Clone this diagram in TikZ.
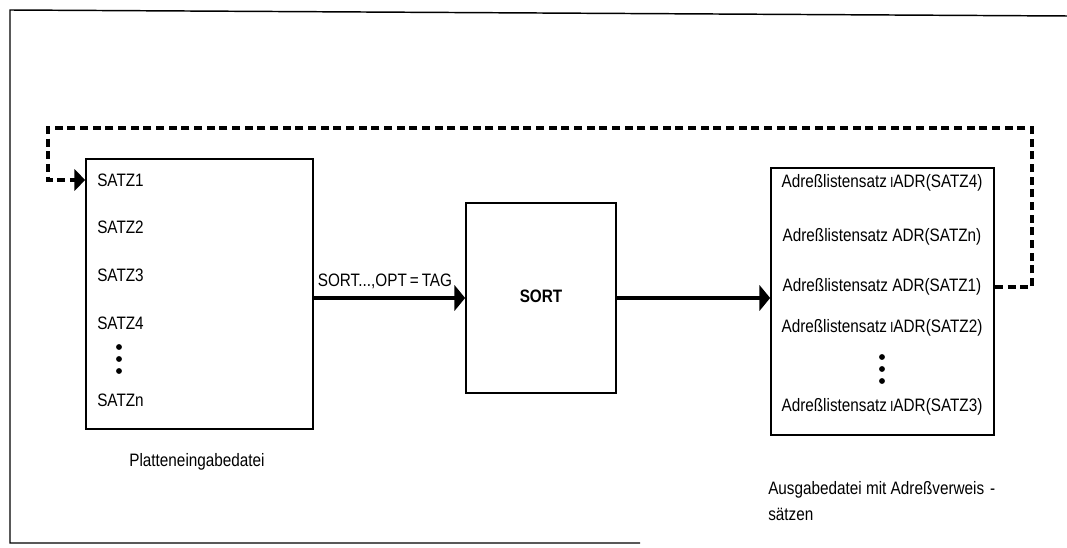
\documentclass[tikz,border=0pt]{standalone}
\usepackage{fontspec}
\setmainfont[FakeStretch=0.85]{Liberation Sans}
\usetikzlibrary{arrows.meta}
\begin{document}
\begin{tikzpicture}[x=0.75pt,y=-0.75pt,
  box/.style={draw,line width=1.3pt,minimum width=#1,inner sep=0pt},
  lbl/.style={inner sep=0pt,font=\fontsize{13.5}{15}\selectfont},
  frame/.style={line width=1.1pt},
  mainarr/.style={line width=3.2pt,-{Triangle[length=8pt,width=19pt]}},
  loop/.style={line width=2.7pt,dash pattern=on 6pt off 3.5pt,-{Triangle[length=8pt,width=16pt]}},
  dot/.style={circle,fill,inner sep=0pt,minimum size=4.4pt}]
\useasboundingbox (0,0) rectangle (1067,548);
% outer frame (open at right)
\draw[frame] (1067,16) -- (10,10) -- (10,543) -- (640,543);
% boxes
\node[box=227*0.75pt,minimum height=270*0.75pt] (lbox) at (199.5,294) {};
\node[box=150*0.75pt,minimum height=190*0.75pt] (sort) at (541,298) {};
\node[box=223*0.75pt,minimum height=267*0.75pt] (rbox) at (882.5,301.5) {};
% left box texts
\node[lbl,anchor=west] (s1) at (97,180) {SATZ1};
\node[lbl,anchor=west] (s2) at (97,227) {SATZ2};
\node[lbl,anchor=west] (s3) at (97,275) {SATZ3};
\node[lbl,anchor=west] (s4) at (97,323) {SATZ4};
\node[dot] (ld1) at (119,347) {};
\node[dot] (ld2) at (119,359) {};
\node[dot] (ld3) at (119,371) {};
\node[lbl,anchor=west] (sn) at (97,400) {SATZn};
\node[lbl] (pcap) at (197,462) {Platteneingabedatei};
% sort box
\node[lbl,font=\fontsize{13.5}{15}\selectfont\bfseries] (sortlbl) at (541,296) {SORT};
% right box texts
\node[lbl] (r1) at (882,183) {Adreßlistensatz\,{\fontsize{11}{12}\selectfont I}ADR(SATZ4)};
\node[lbl] (r2) at (882,237) {Adreßlistensatz ADR(SATZn)};
\node[lbl] (r3) at (882,287) {Adreßlistensatz ADR(SATZ1)};
\node[lbl] (r4) at (882,328) {Adreßlistensatz\,{\fontsize{11}{12}\selectfont I}ADR(SATZ2)};
\node[dot] (rd1) at (882,357) {};
\node[dot] (rd2) at (882,369) {};
\node[dot] (rd3) at (882,381) {};
\node[lbl] (r5) at (882,407) {Adreßlistensatz\,{\fontsize{11}{12}\selectfont I}ADR(SATZ3)};
\node[lbl,anchor=west] (rcap1) at (768,490) {Ausgabedatei mit Adreßverweis\,\,-};
\node[lbl,anchor=west] (rcap2) at (768,514) {sätzen};
% main arrows
\draw[mainarr] (lbox.east |- sort.center) -- (sort.west)
  node[lbl,pos=0.47,above=5pt] (optlbl) {SORT...,OPT\,=\,TAG};
\draw[mainarr] (sort.east) -- (rbox.west |- sort.east);
% feedback loop
\coordinate (tr) at (1032,128);
\coordinate (tl) at (48,128);
\draw[loop] (rbox.east |- r3) -| (tr) -- (tl) |- (lbox.west |- s1);
\end{tikzpicture}
\end{document}
